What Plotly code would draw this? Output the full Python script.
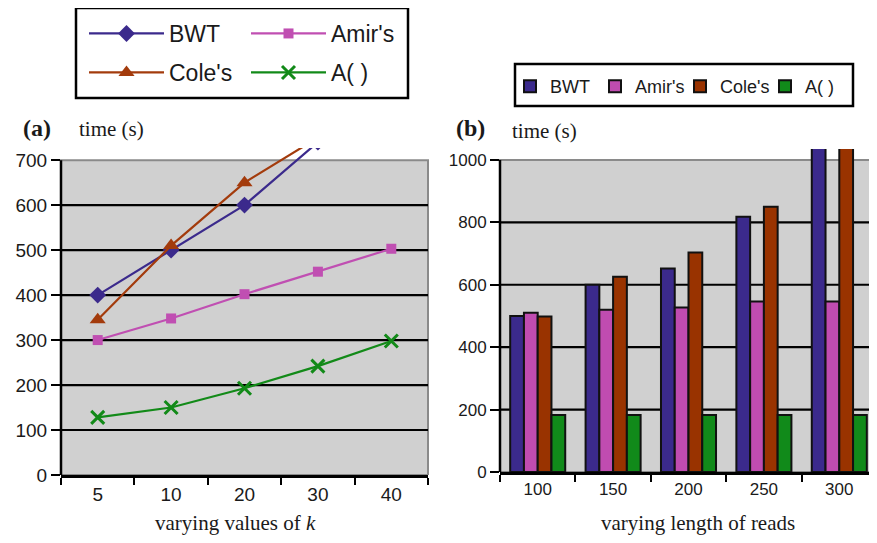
import plotly.graph_objects as go

# ---------------- data ----------------
k_values = ['5', '10', '20', '30', '40']
bwt_k = [400, 500, 600, 740, 900]
amir_k = [300, 348, 402, 452, 503]
cole_k = [345, 510, 650, 750, 900]
a_k = [128, 150, 193, 242, 298]

read_lengths = ['100', '150', '200', '250', '300']
bwt_len = [500, 600, 652, 818, 1200]
amir_len = [510, 520, 527, 546, 546]
cole_len = [498, 626, 703, 850, 1200]
a_len = [183, 183, 183, 183, 183]

left_ticks = [0, 100, 200, 300, 400, 500, 600, 700]
right_ticks = [0, 200, 400, 600, 800, 1000]

series_names = ['BWT', "Amir's", "Cole's", 'A( )']
line_colors = ['#3b2a8c', '#c04fb2', '#a33b0c', '#128a18']
bar_colors = ['#3b2a8c', '#c04cb0', '#993300', '#118a1a']

# page body has an 8px margin: the figure sits at (8,8) in the 877x543 window
OFF = 8
W, H = 877 - OFF, 543 - OFF
SANS = 'Liberation Sans, Arial, sans-serif'
SERIF = 'Liberation Serif, Times New Roman, serif'


def px_x(p):
    return (p - OFF) / W


def px_y(p):
    return 1 - (p - OFF) / H


fig = go.Figure()

# ---------------- left: lines ----------------
left_series = [bwt_k, amir_k, cole_k, a_k]
symbols = ['diamond', 'square', 'triangle-up', 'x-thin-open']
msizes = [13, 10, 14, 13]
legends = ['legend', 'legend', 'legend3', 'legend3']
for name, vals, col, sym, ms, lg in zip(series_names, left_series, line_colors, symbols, msizes, legends):
    marker = dict(symbol=sym, size=ms, color=col)
    if sym == 'x-thin-open':
        marker['line'] = dict(color=col, width=3)
    fig.add_trace(go.Scatter(x=k_values, y=vals, name=name, mode='lines+markers',
                             line=dict(color=col, width=2.2), marker=marker,
                             xaxis='x', yaxis='y', legend=lg))

# ---------------- right: bars ----------------
right_series = [bwt_len, amir_len, cole_len, a_len]
for name, vals, col in zip(series_names, right_series, bar_colors):
    fig.add_trace(go.Bar(x=read_lengths, y=vals, name=name,
                         marker=dict(color=col, line=dict(color='#111111', width=2)),
                         xaxis='x2', yaxis='y2', legend='legend2'))

tickfont_l = dict(family=SANS, size=19, color='#1a1a1a')
tickfont_r = dict(family=SANS, size=17, color='#1a1a1a')

fig.update_layout(
    width=W, height=H,
    margin=dict(l=0, r=0, t=0, b=0),
    paper_bgcolor='white', plot_bgcolor='rgba(0,0,0,0)',
    barmode='group', bargap=0.27, bargroupgap=0,
    xaxis=dict(domain=[px_x(61), px_x(428)], type='category', range=[-0.5, 4.5],
               tickson='boundaries', ticks='outside', ticklen=7, tickwidth=2, tickcolor='black',
               showline=True, linecolor='black', linewidth=2.5, showgrid=False,
               tickfont=tickfont_l, anchor='y', automargin=False),
    yaxis=dict(domain=[px_y(475), px_y(148)], range=[0, 727],
               tickvals=left_ticks, ticks='outside', ticklen=9, tickwidth=2,
               tickcolor='black', showline=False, showgrid=False,
               zeroline=False, tickfont=tickfont_l, anchor='x', automargin=False),
    xaxis2=dict(domain=[px_x(500), 1.0], type='category', range=[-0.5, 4.5],
                tickson='boundaries', ticks='outside', ticklen=7, tickwidth=2, tickcolor='black',
                showline=True, linecolor='black', linewidth=2.5, showgrid=False,
                tickfont=tickfont_r, anchor='y2', automargin=False),
    yaxis2=dict(domain=[px_y(472), px_y(149)], range=[0, 1035],
                tickvals=right_ticks, ticks='outside', ticklen=9, tickwidth=2,
                tickcolor='black', showline=False, showgrid=False,
                zeroline=False, tickfont=tickfont_r, anchor='x2', automargin=False),
    showlegend=True,
    legend=dict(x=px_x(84), y=px_y(12), xanchor='left', yanchor='top', orientation='h',
                font=dict(family=SANS, size=23, color='#1a1a1a'), bgcolor='rgba(0,0,0,0)',
                borderwidth=0, entrywidth=72, itemwidth=75),
    legend3=dict(x=px_x(84), y=px_y(51), xanchor='left', yanchor='top', orientation='h',
                 font=dict(family=SANS, size=23, color='#1a1a1a'), bgcolor='rgba(0,0,0,0)',
                 borderwidth=0, entrywidth=72, itemwidth=75),
    legend2=dict(x=px_x(510), y=px_y(68), xanchor='left', yanchor='top', orientation='h',
                 font=dict(family=SANS, size=18, color='#1a1a1a'), bgcolor='rgba(0,0,0,0)',
                 borderwidth=0, entrywidth=40),
)

shapes = []
# gray plot areas
shapes.append(dict(type='rect', xref='x domain', yref='y', x0=0, x1=1, y0=0, y1=left_ticks[-1],
                   fillcolor='#d0d0d0', line=dict(color='#8a8a8a', width=2), layer='below'))
shapes.append(dict(type='rect', xref='x2 domain', yref='y2', x0=0, x1=1.02, y0=0, y1=right_ticks[-1],
                   fillcolor='#d0d0d0', line=dict(color='#8a8a8a', width=2), layer='below'))
# black gridlines at the interior ticks
for v in left_ticks[1:-1]:
    shapes.append(dict(type='line', xref='x domain', yref='y', x0=0, x1=1, y0=v, y1=v,
                       line=dict(color='black', width=2.2), layer='below'))
for v in right_ticks[1:-1]:
    shapes.append(dict(type='line', xref='x2 domain', yref='y2', x0=0, x1=1, y0=v, y1=v,
                       line=dict(color='black', width=2.2), layer='below'))
# y axis lines
shapes.append(dict(type='line', xref='x domain', yref='y', x0=0, x1=0, y0=0, y1=left_ticks[-1],
                   line=dict(color='black', width=2.5)))
shapes.append(dict(type='line', xref='x2 domain', yref='y2', x0=0, x1=0, y0=0, y1=right_ticks[-1],
                   line=dict(color='black', width=2.5)))
# legend boxes
shapes.append(dict(type='rect', xref='paper', yref='paper', x0=px_x(76), x1=px_x(408),
                   y0=px_y(98), y1=px_y(8), line=dict(color='black', width=2.5)))
shapes.append(dict(type='rect', xref='paper', yref='paper', x0=px_x(515), x1=px_x(853),
                   y0=px_y(106), y1=px_y(64), line=dict(color='black', width=2.5)))
fig.update_layout(shapes=shapes)

ann = []
ann.append(dict(text='<b>(a)</b>', x=px_x(21), y=px_y(128), xref='paper', yref='paper',
                xanchor='left', yanchor='middle', showarrow=False,
                font=dict(family=SERIF, size=24, color='#1a1a1a')))
ann.append(dict(text='time (s)', x=px_x(77), y=px_y(129), xref='paper', yref='paper',
                xanchor='left', yanchor='middle', showarrow=False,
                font=dict(family=SERIF, size=21, color='#1a1a1a')))
ann.append(dict(text='<b>(b)</b>', x=px_x(454), y=px_y(128), xref='paper', yref='paper',
                xanchor='left', yanchor='middle', showarrow=False,
                font=dict(family=SERIF, size=24, color='#1a1a1a')))
ann.append(dict(text='time (s)', x=px_x(510), y=px_y(131), xref='paper', yref='paper',
                xanchor='left', yanchor='middle', showarrow=False,
                font=dict(family=SERIF, size=21, color='#1a1a1a')))
ann.append(dict(text='varying values of <i>k</i>', x=px_x(235), y=px_y(523), xref='paper', yref='paper',
                xanchor='center', yanchor='middle', showarrow=False,
                font=dict(family=SERIF, size=21, color='#1a1a1a')))
ann.append(dict(text='varying length of reads', x=px_x(698), y=px_y(523), xref='paper', yref='paper',
                xanchor='center', yanchor='middle', showarrow=False,
                font=dict(family=SERIF, size=21, color='#1a1a1a')))
fig.update_layout(annotations=ann)

fig.write_html('out.html')
